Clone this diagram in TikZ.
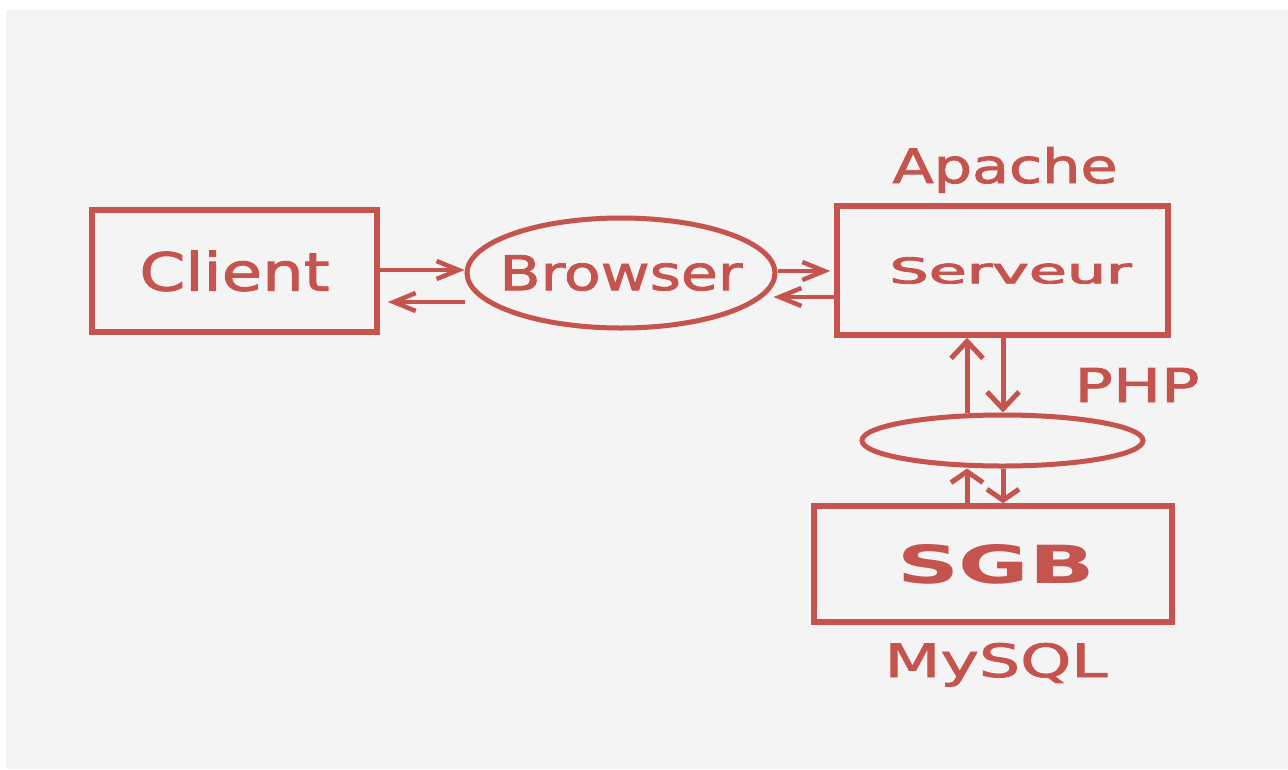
\documentclass[tikz,border=0pt]{standalone}
\usepackage{fontspec}
\setmainfont{DejaVu Sans}
\newfontfamily\medfont[FakeBold=1.6]{DejaVu Sans}
\newfontfamily\semifont[FakeBold=2.6]{DejaVu Sans}
\usetikzlibrary{shapes.geometric,arrows.meta,calc}
\definecolor{ink}{RGB}{198,84,78}
\definecolor{bg}{RGB}{244,244,244}
\begin{document}
\begin{tikzpicture}[x=1pt,y=-1pt,
 box/.style={draw=ink,line width=5.5pt,rectangle,inner sep=0pt,text=ink},
 oval/.style={draw=ink,line width=5pt,ellipse,inner sep=0pt,text=ink},
 lbl/.style={text=ink,inner sep=0pt,anchor=base},
 harr/.style={draw=ink,line width=4.5pt,-{Straight Barb[length=22pt,width=18pt]}},
 varr/.style={draw=ink,line width=5pt,-{Straight Barb[length=17pt,width=32pt]}},
 sarr/.style={draw=ink,line width=5pt,-{Straight Barb[length=11pt,width=32pt]}}]
\useasboundingbox (0,0) rectangle (1288,769);
\fill[white] (0,0) rectangle (1288,769);
\fill[bg] (6,10) rectangle (1288,769);
% nodes
\node[box,minimum width=285pt,minimum height=122pt] (client) at (234.5,271) {\medfont\resizebox{190pt}{40pt}{Client}};
\node[oval,minimum width=308pt,minimum height=110pt] (browser) at (621,273) {\makebox[0pt]{\medfont\resizebox{243pt}{35pt}{Browser}}};
\node[box,minimum width=331pt,minimum height=129pt] (serveur) at (1002.5,270.5) {\hspace{16pt}\semifont\resizebox{242pt}{26pt}{Serveur}};
\node[lbl] (apache) at (1005,183) {\medfont\resizebox{225pt}{36pt}{Apache}};
\node[oval,minimum width=281pt,minimum height=51pt] (php) at (1002.5,440.5) {};
\node[lbl] (phplbl) at (1137,402) {\medfont\resizebox{125pt}{34pt}{PHP}};
\node[box,minimum width=358pt,minimum height=116pt] (sgb) at (993,564) {\hspace{6pt}\resizebox{198pt}{39pt}{\bfseries SGB}};
\node[lbl] (mysql) at (996,677) {\medfont\resizebox{223pt}{34pt}{MySQL}};
% connectors
\draw[harr] (client.east |- 0,270) -- (browser.west |- 0,270);
\draw[harr] (browser.west |- 0,302) -- ([xshift=8pt]client.east |- 0,302);
\draw[harr] (browser.east |- 0,271) -- ([xshift=-4pt]serveur.west |- 0,271);
\draw[harr] (serveur.west |- 0,297) -- ([xshift=-4pt]browser.east |- 0,297);
\draw[varr] (php.north -| 967,0) -- (serveur.south -| 967,0);
\draw[varr] (serveur.south -| 1003,0) -- (php.north -| 1003,0);
\draw[sarr] (sgb.north -| 967,0) -- (php.south -| 967,0);
\draw[sarr] (php.south -| 1003,0) -- (sgb.north -| 1003,0);
\end{tikzpicture}
\end{document}
